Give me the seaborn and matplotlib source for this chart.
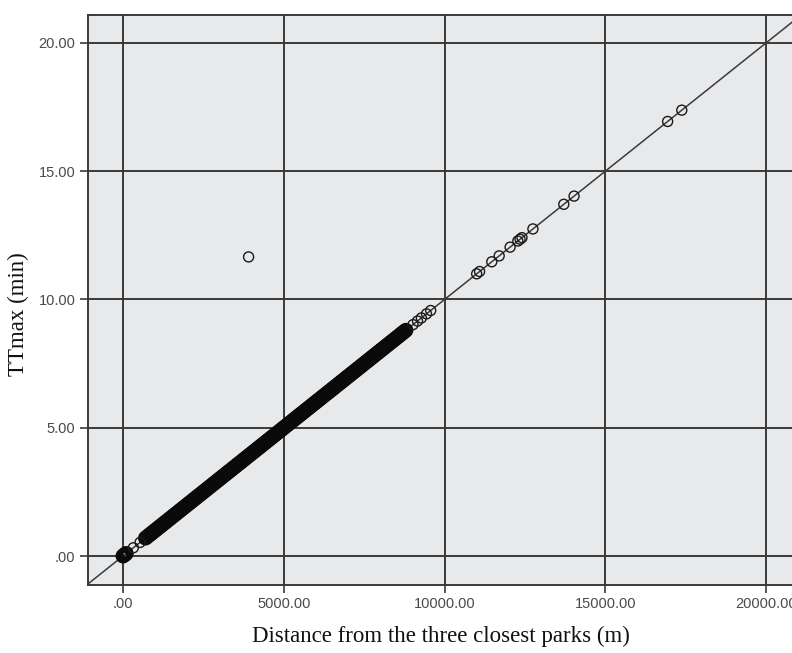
import numpy as np
import pandas as pd
import matplotlib
matplotlib.use("Agg")
import matplotlib.pyplot as plt
import seaborn as sns

# ---- data ----
dense_dist = [
    700, 750, 800, 850, 900, 950, 1000, 1050, 1100, 1150,
    1200, 1250, 1300, 1350, 1400, 1450, 1500, 1550, 1600, 1650,
    1700, 1750, 1800, 1850, 1900, 1950, 2000, 2050, 2100, 2150,
    2200, 2250, 2300, 2350, 2400, 2450, 2500, 2550, 2600, 2650,
    2700, 2750, 2800, 2850, 2900, 2950, 3000, 3050, 3100, 3150,
    3200, 3250, 3300, 3350, 3400, 3450, 3500, 3550, 3600, 3650,
    3700, 3750, 3800, 3850, 3900, 3950, 4000, 4050, 4100, 4150,
    4200, 4250, 4300, 4350, 4400, 4450, 4500, 4550, 4600, 4650,
    4700, 4750, 4800, 4850, 4900, 4950, 5000, 5050, 5100, 5150,
    5200, 5250, 5300, 5350, 5400, 5450, 5500, 5550, 5600, 5650,
    5700, 5750, 5800, 5850, 5900, 5950, 6000, 6050, 6100, 6150,
    6200, 6250, 6300, 6350, 6400, 6450, 6500, 6550, 6600, 6650,
    6700, 6750, 6800, 6850, 6900, 6950, 7000, 7050, 7100, 7150,
    7200, 7250, 7300, 7350, 7400, 7450, 7500, 7550, 7600, 7650,
    7700, 7750, 7800, 7850, 7900, 7950, 8000, 8050, 8100, 8150,
    8200, 8250, 8300, 8350, 8400, 8450, 8500, 8550, 8600, 8650,
    8700, 8750, 8800,
]
dense_tt = [
    0.70, 0.75, 0.80, 0.85, 0.90, 0.95, 1.00, 1.05, 1.10, 1.15,
    1.20, 1.25, 1.30, 1.35, 1.40, 1.45, 1.50, 1.55, 1.60, 1.65,
    1.70, 1.75, 1.80, 1.85, 1.90, 1.95, 2.00, 2.05, 2.10, 2.15,
    2.20, 2.25, 2.30, 2.35, 2.40, 2.45, 2.50, 2.55, 2.60, 2.65,
    2.70, 2.75, 2.80, 2.85, 2.90, 2.95, 3.00, 3.05, 3.10, 3.15,
    3.20, 3.25, 3.30, 3.35, 3.40, 3.45, 3.50, 3.55, 3.60, 3.65,
    3.70, 3.75, 3.80, 3.85, 3.90, 3.95, 4.00, 4.05, 4.10, 4.15,
    4.20, 4.25, 4.30, 4.35, 4.40, 4.45, 4.50, 4.55, 4.60, 4.65,
    4.70, 4.75, 4.80, 4.85, 4.90, 4.95, 5.00, 5.05, 5.10, 5.15,
    5.20, 5.25, 5.30, 5.35, 5.40, 5.45, 5.50, 5.55, 5.60, 5.65,
    5.70, 5.75, 5.80, 5.85, 5.90, 5.95, 6.00, 6.05, 6.10, 6.15,
    6.20, 6.25, 6.30, 6.35, 6.40, 6.45, 6.50, 6.55, 6.60, 6.65,
    6.70, 6.75, 6.80, 6.85, 6.90, 6.95, 7.00, 7.05, 7.10, 7.15,
    7.20, 7.25, 7.30, 7.35, 7.40, 7.45, 7.50, 7.55, 7.60, 7.65,
    7.70, 7.75, 7.80, 7.85, 7.90, 7.95, 8.00, 8.05, 8.10, 8.15,
    8.20, 8.25, 8.30, 8.35, 8.40, 8.45, 8.50, 8.55, 8.60, 8.65,
    8.70, 8.75, 8.80,
]
origin_dist = [0, 30, 60, 100]
origin_tt = [0.00, 0.03, 0.06, 0.10]
sparse_dist = [320, 530,
               9020, 9160, 9280, 9440, 9570,
               11000, 11090, 11470, 11700, 12040, 12280, 12350, 12410,
               12750, 13710, 14030, 16940, 17380]
sparse_tt = [0.32, 0.53,
             9.02, 9.16, 9.28, 9.44, 9.57,
             11.00, 11.09, 11.47, 11.70, 12.04, 12.28, 12.35, 12.41,
             12.75, 13.71, 14.03, 16.94, 17.38]
outlier_dist = [3906]
outlier_tt = [11.66]

fit_x = [0, 20000]
fit_y = [0, 20]

x_ticks = [0, 5000, 10000, 15000, 20000]
x_tick_labels = [".00", "5000.00", "10000.00", "15000.00", "20000.00"]
y_ticks = [0, 5, 10, 15, 20]
y_tick_labels = [".00", "5.00", "10.00", "15.00", "20.00"]

df_dense = pd.DataFrame({"dist": dense_dist + origin_dist, "tt": dense_tt + origin_tt})
df_sparse = pd.DataFrame({"dist": sparse_dist + outlier_dist, "tt": sparse_tt + outlier_tt})

# ---- plotting ----
sns.set_style("white")
plt.rcParams["font.family"] = ["Liberation Sans", "DejaVu Sans"]

W, H = 792, 653
fig = plt.figure(figsize=(W / 100, H / 100), dpi=100)
ax_l, ax_r, ax_t, ax_b = 88, 800, 15, 585
ax = fig.add_axes([ax_l / W, 1 - ax_b / H, (ax_r - ax_l) / W, (ax_b - ax_t) / H])
ax.set_facecolor("#e8e9eb")

ax.set_xlim(-1089, 21057)
ax.set_ylim(-1.13, 21.09)

grid_c = "#3a3a3a"
for xv in x_ticks:
    ax.axvline(xv, color=grid_c, lw=1.4, zorder=1)
for yv in y_ticks:
    ax.axhline(yv, color=grid_c, lw=1.4, zorder=1)

ax.axline((fit_x[0], fit_y[0]), (fit_x[1], fit_y[1]), color="#3a3a3a", lw=1.1, zorder=2)

# dense cloud: overlapping circles merge into a solid black band
sns.scatterplot(data=df_dense, x="dist", y="tt", ax=ax, marker="o", s=60,
                facecolor="none", edgecolor="#0a0a0a", linewidth=3.0, zorder=3)
sns.scatterplot(data=df_sparse, x="dist", y="tt", ax=ax, marker="o", s=52,
                facecolor="none", edgecolor="#1a1a1a", linewidth=1.0, zorder=3)

ax.set_xticks(x_ticks)
ax.set_xticklabels(x_tick_labels)
ax.set_yticks(y_ticks)
ax.set_yticklabels(y_tick_labels)
ax.tick_params(axis="both", which="both", length=6, width=1.2, color=grid_c,
               labelsize=10.5, labelcolor="#4a4a4a", direction="out", pad=3)
ax.tick_params(left=True, bottom=True)

for side in ["left", "bottom", "top"]:
    ax.spines[side].set_visible(True)
    ax.spines[side].set_color("#3a3a3a")
    ax.spines[side].set_linewidth(1.4)
ax.spines["right"].set_visible(False)

ax.set_xlabel("Distance from the three closest parks (m)", family="Liberation Serif",
              fontsize=16.5, color="#111111")
ax.set_ylabel("TTmax (min)", family="Liberation Serif", fontsize=16.5, color="#111111")
ax.xaxis.set_label_coords((441 - ax_l) / (ax_r - ax_l), -(626 - ax_b) / (ax_b - ax_t))
ax.yaxis.set_label_coords(-(88 - 29) / (ax_r - ax_l), (ax_b - 314) / (ax_b - ax_t))

fig.savefig("out.png", dpi=100)
